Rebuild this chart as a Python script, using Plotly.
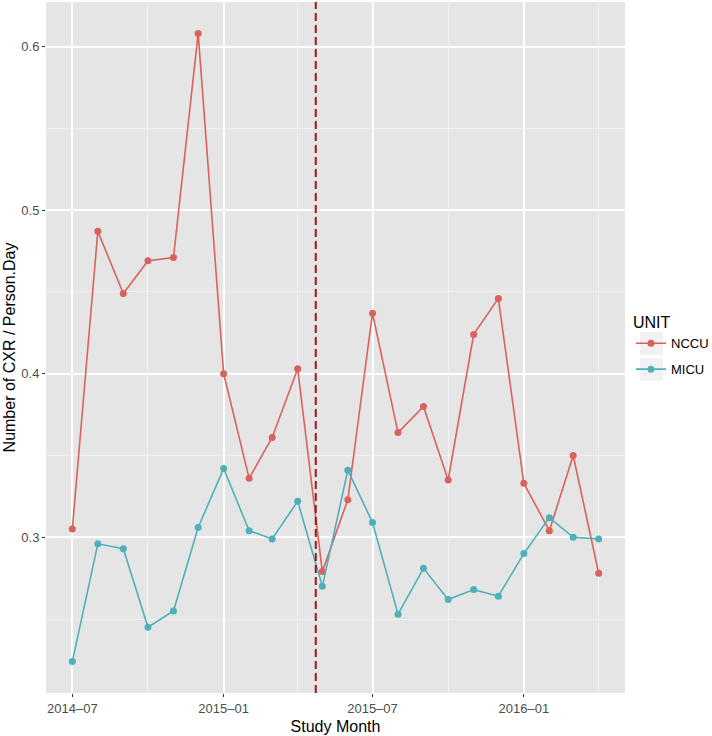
import plotly.graph_objects as go
import pandas as pd

months = pd.date_range("2014-07-01", "2016-04-01", freq="MS")
nccu = [0.305, 0.487, 0.449, 0.469, 0.471, 0.608, 0.400, 0.336, 0.361, 0.403, 0.279,
        0.323, 0.437, 0.364, 0.380, 0.335, 0.424, 0.446, 0.333, 0.304, 0.350, 0.278]
micu = [0.224, 0.296, 0.293, 0.245, 0.255, 0.306, 0.342, 0.304, 0.299, 0.322, 0.270,
        0.341, 0.309, 0.253, 0.281, 0.262, 0.268, 0.264, 0.290, 0.312, 0.300, 0.299]
intervention = "2015-04-23"

x_ticks = ["2014-07-01", "2015-01-01", "2015-07-01", "2016-01-01"]
x_ticktext = ["2014–07", "2015–01", "2015–07", "2016–01"]
x_minor = ["2014-10-01", "2015-04-01", "2015-10-01", "2016-04-01"]
y_ticks = [0.3, 0.4, 0.5, 0.6]
y_ticktext = ["0.3", "0.4", "0.5", "0.6"]
y_minor = [0.25, 0.35, 0.45, 0.55]

RED = "#D9625C"
TEAL = "#4FB0B9"
FONT = "Liberation Sans"

# ggplot-style 5% expansion
allv = nccu + micu
ymin, ymax = min(allv), max(allv)
yr = [ymin - 0.05 * (ymax - ymin), ymax + 0.05 * (ymax - ymin)]
span = months[-1] - months[0]
xr = [months[0] - 0.05 * span, months[-1] + 0.05 * span]

fig = go.Figure()
fig.add_trace(go.Scatter(x=months, y=nccu, name="NCCU", mode="lines+markers",
                         line=dict(color=RED, width=1.6), marker=dict(color=RED, size=7),
                         legendgroup="a"))
fig.add_trace(go.Scatter(x=months, y=micu, name="MICU", mode="lines+markers",
                         line=dict(color=TEAL, width=1.6), marker=dict(color=TEAL, size=7),
                         legendgroup="b"))

fig.add_shape(type="line", xref="x", yref="paper", x0=intervention, x1=intervention,
              y0=0, y1=1, line=dict(color="#A3141C", width=2, dash="8px,4px"))

# legend key backgrounds (ggplot style)
FW, FH = 712, 736
L, R, T, B = 46, 625, 2, 693
W, H = R - L, B - T
def px(x): return (x - L) / W
def py(y): return (B - y) / H
for (y0, y1) in [(332, 355), (358, 381)]:
    fig.add_shape(type="rect", xref="paper", yref="paper", x0=px(640), x1=px(663),
                  y0=py(y1), y1=py(y0), fillcolor="#F2F2F2", line=dict(width=0), layer="below")

fig.update_layout(
    width=FW, height=FH,
    margin=dict(l=L, r=FW - R, t=T, b=FH - B),
    paper_bgcolor="white", plot_bgcolor="#E5E5E5",
    font=dict(family=FONT, color="#000000"),
    legend=dict(title=dict(text="UNIT", font=dict(size=16, color="black")),
                font=dict(size=13, color="black"),
                xref="container", yref="container",
                x=631 / FW, xanchor="left", y=1 - 346 / FH, yanchor="middle",
                itemwidth=30, tracegroupgap=6, bgcolor="rgba(0,0,0,0)"),
    xaxis=dict(range=xr, tickvals=x_ticks, ticktext=x_ticktext, showgrid=True,
               gridcolor="white", gridwidth=1.6, zeroline=False, showline=False,
               ticks="outside", ticklen=3, tickcolor="#333333", tickwidth=1.2,
               tickfont=dict(size=13, color="#4D4D4D"),
               minor=dict(tickvals=x_minor, showgrid=True, gridcolor="#F2F2F2", gridwidth=0.8, ticks=""),
               title=dict(text="Study Month", font=dict(size=16), standoff=6)),
    yaxis=dict(range=yr, tickvals=y_ticks, ticktext=y_ticktext, showgrid=True,
               gridcolor="white", gridwidth=1.6, zeroline=False, showline=False,
               ticks="outside", ticklen=3, tickcolor="#333333", tickwidth=1.2,
               tickfont=dict(size=13, color="#4D4D4D"),
               minor=dict(tickvals=y_minor, showgrid=True, gridcolor="#F2F2F2", gridwidth=0.8, ticks=""),
               title=dict(text="Number of CXR / Person.Day", font=dict(size=16), standoff=1)),
)

fig.write_html("out.html", config={"displayModeBar": False},
               post_script="document.body.style.margin='0px';")
